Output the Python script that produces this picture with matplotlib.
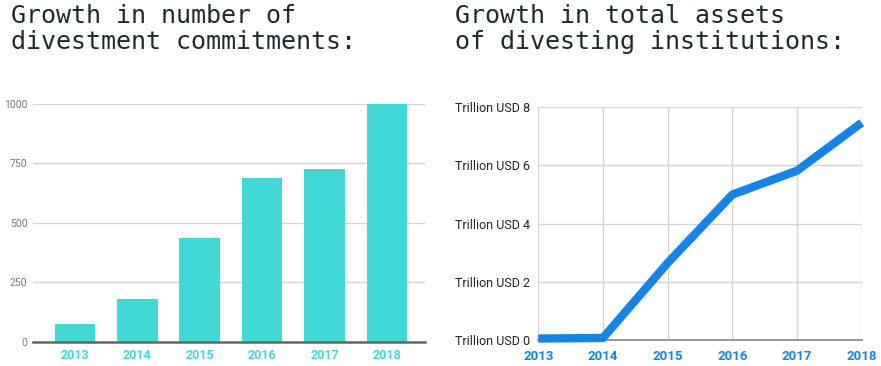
import matplotlib.pyplot as plt
import numpy as np

# Divestment data
years = ['2013', '2014', '2015', '2016', '2017', '2018']
commitments = [73, 181, 436, 689, 728, 1000]
assets_trillion = [0.05, 0.07, 2.65, 5.0, 5.82, 7.47]

bar_color = '#42d8d5'
line_color = '#1683e5'
grid_color = '#d4d4d4'

fig = plt.figure(figsize=(8.81, 3.66), dpi=100)

# Titles
fig.text(11 / 881, 1 - 4 / 366, 'Growth in number of\ndivestment commitments:',
         family='DejaVu Sans Mono', fontsize=18, color='#1e2a30',
         va='top', ha='left', linespacing=1.12)
fig.text(455 / 881, 1 - 4 / 366, 'Growth in total assets\nof divesting institutions:',
         family='DejaVu Sans Mono', fontsize=18, color='#1e2a30',
         va='top', ha='left', linespacing=1.12)

# Bar chart: number of commitments
ax1 = fig.add_axes([33 / 881, 1 - 341.7 / 366, (425 - 33) / 881, (341.7 - 104) / 366])
x = np.arange(len(years))
ax1.bar(x, commitments, width=0.65, color=bar_color, zorder=3)
ax1.set_xlim(-0.67, 5.61)
ax1.set_ylim(0, 1000)
ax1.set_yticks([0, 250, 500, 750, 1000])
ax1.yaxis.grid(True, color=grid_color, linewidth=1, zorder=0)
ax1.set_xticks(x)
ax1.set_xticklabels(years, family='Roboto', fontweight='bold', fontsize=9, color=bar_color)
for lbl in ax1.get_yticklabels():
    lbl.set_family('Roboto')
    lbl.set_fontsize(7.5)
    lbl.set_color('#777777')
ax1.tick_params(length=0, pad=5)
ax1.tick_params(axis='y', pad=4)
for s in ['top', 'right', 'left']:
    ax1.spines[s].set_visible(False)
ax1.spines['bottom'].set_color('#666666')
ax1.spines['bottom'].set_linewidth(1.8)
ax1.spines['bottom'].set_zorder(4)

# Line chart: total assets
ax2 = fig.add_axes([538.3 / 881, 1 - 340 / 366, (861.7 - 538.3) / 881, (340 - 107.3) / 366])
ax2.plot(x, assets_trillion, color=line_color, linewidth=6, solid_capstyle='butt',
         solid_joinstyle='round', zorder=3, clip_on=False)
ax2.set_xlim(0, 5)
ax2.set_ylim(0, 8)
ax2.set_yticks([0, 2, 4, 6, 8])
ax2.set_yticklabels(['Trillion USD %d' % v for v in [0, 2, 4, 6, 8]],
                    family='Roboto', fontsize=9, color='#222222')
ax2.set_xticks(x)
ax2.set_xticklabels(years, family='Roboto', fontweight='bold', fontsize=9.5, color=line_color)
ax2.grid(True, color=grid_color, linewidth=1, zorder=0)
ax2.tick_params(length=0)
ax2.tick_params(axis='x', pad=7)
ax2.tick_params(axis='y', pad=6)
for s in ['top', 'right', 'left']:
    ax2.spines[s].set_visible(False)
ax2.spines['bottom'].set_color('#888888')
ax2.spines['bottom'].set_linewidth(1.2)

plt.savefig('out.png', dpi=100)
